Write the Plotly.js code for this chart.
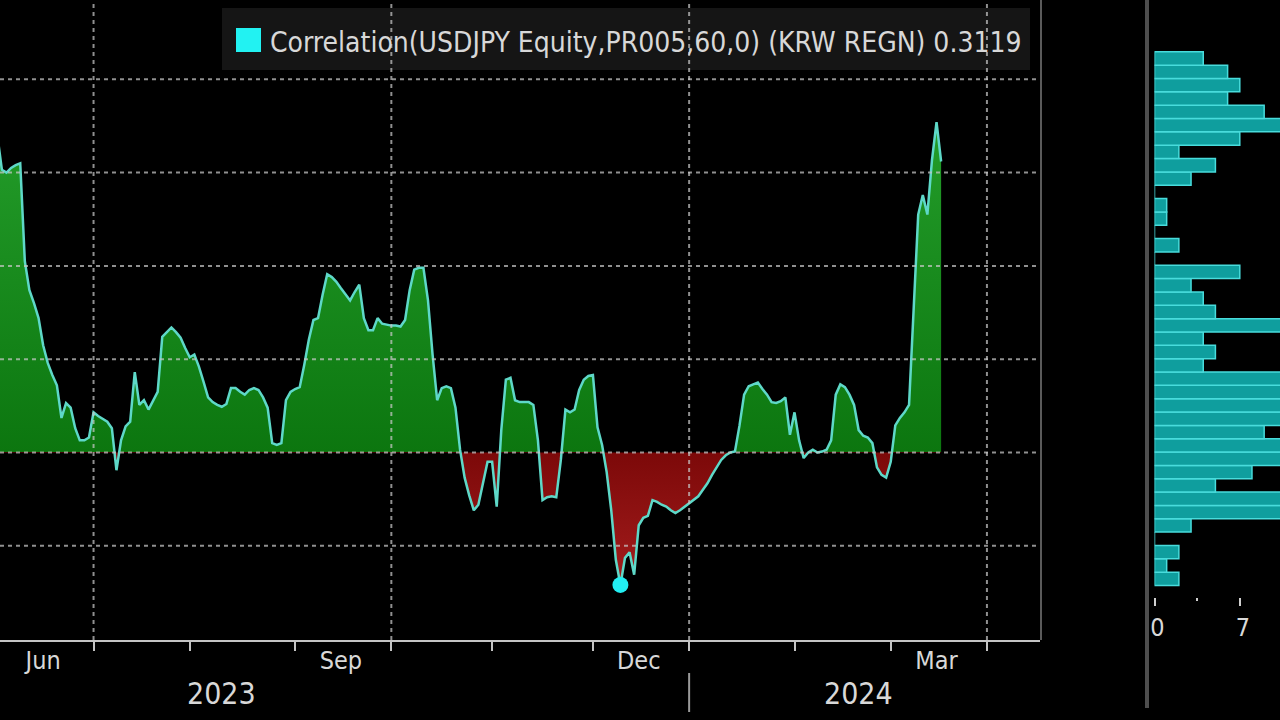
<!DOCTYPE html>
<html><head><meta charset="utf-8">
<script src="https://cdn.plot.ly/plotly-3.0.1.min.js"></script>
<style>html,body{margin:0;padding:0;background:#000;} #chart{width:1280px;height:720px;}</style>
</head><body><div id="chart"></div>
<script>
// ---- data ----
const dates = [
'2023-06-02','2023-06-05','2023-06-06','2023-06-07','2023-06-08','2023-06-09','2023-06-12','2023-06-13','2023-06-14','2023-06-15',
'2023-06-16','2023-06-19','2023-06-20','2023-06-21','2023-06-22','2023-06-23','2023-06-26','2023-06-27','2023-06-28','2023-06-29',
'2023-06-30','2023-07-03','2023-07-04','2023-07-05','2023-07-06','2023-07-07','2023-07-10','2023-07-11','2023-07-12','2023-07-13',
'2023-07-14','2023-07-17','2023-07-18','2023-07-19','2023-07-20','2023-07-21','2023-07-24','2023-07-25','2023-07-26','2023-07-27',
'2023-07-28','2023-07-31','2023-08-01','2023-08-02','2023-08-03','2023-08-04','2023-08-07','2023-08-08','2023-08-09','2023-08-10',
'2023-08-11','2023-08-14','2023-08-15','2023-08-16','2023-08-17','2023-08-18','2023-08-21','2023-08-22','2023-08-23','2023-08-24',
'2023-08-25','2023-08-28','2023-08-29','2023-08-30','2023-08-31','2023-09-01','2023-09-04','2023-09-05','2023-09-06','2023-09-07',
'2023-09-08','2023-09-11','2023-09-12','2023-09-13','2023-09-14','2023-09-15','2023-09-18','2023-09-19','2023-09-20','2023-09-21',
'2023-09-22','2023-09-25','2023-09-26','2023-09-27','2023-09-28','2023-09-29','2023-10-02','2023-10-03','2023-10-04','2023-10-05',
'2023-10-06','2023-10-09','2023-10-10','2023-10-11','2023-10-12','2023-10-13','2023-10-16','2023-10-17','2023-10-18','2023-10-19',
'2023-10-20','2023-10-23','2023-10-24','2023-10-25','2023-10-26','2023-10-27','2023-10-30','2023-10-31','2023-11-01','2023-11-02',
'2023-11-03','2023-11-06','2023-11-07','2023-11-08','2023-11-09','2023-11-10','2023-11-13','2023-11-14','2023-11-15','2023-11-16',
'2023-11-17','2023-11-20','2023-11-21','2023-11-22','2023-11-23','2023-11-24','2023-11-27','2023-11-28','2023-11-29','2023-11-30',
'2023-12-01','2023-12-04','2023-12-05','2023-12-06','2023-12-07','2023-12-08','2023-12-11','2023-12-12','2023-12-13','2023-12-14',
'2023-12-15','2023-12-18','2023-12-19','2023-12-20','2023-12-21','2023-12-22','2023-12-25','2023-12-26','2023-12-27','2023-12-28',
'2023-12-29','2024-01-01','2024-01-02','2024-01-03','2024-01-04','2024-01-05','2024-01-08','2024-01-09','2024-01-10','2024-01-11',
'2024-01-12','2024-01-15','2024-01-16','2024-01-17','2024-01-18','2024-01-19','2024-01-22','2024-01-23','2024-01-24','2024-01-25',
'2024-01-26','2024-01-29','2024-01-30','2024-01-31','2024-02-01','2024-02-02','2024-02-05','2024-02-06','2024-02-07','2024-02-08',
'2024-02-09','2024-02-12','2024-02-13','2024-02-14','2024-02-15','2024-02-16','2024-02-19','2024-02-20','2024-02-21','2024-02-22',
'2024-02-23','2024-02-26','2024-02-27','2024-02-28','2024-02-29','2024-03-01','2024-03-04','2024-03-05','2024-03-06','2024-03-07',
'2024-03-08','2024-03-11','2024-03-12','2024-03-13','2024-03-14','2024-03-15','2024-03-18'
];
const corr = [
0.340,0.303,0.300,0.305,0.308,0.310,0.205,0.174,0.160,0.144,
0.115,0.096,0.083,0.072,0.037,0.053,0.048,0.026,0.013,0.013,
0.016,0.043,0.039,0.036,0.033,0.026,-0.019,0.013,0.028,0.033,
0.086,0.051,0.056,0.046,0.056,0.065,0.124,0.129,0.134,0.129,
0.123,0.112,0.102,0.105,0.092,0.076,0.059,0.054,0.051,0.049,
0.052,0.069,0.069,0.065,0.062,0.067,0.069,0.067,0.059,0.048,
0.010,0.008,0.010,0.056,0.065,0.068,0.070,0.094,0.121,0.142,
0.144,0.169,0.191,0.188,0.183,0.176,0.170,0.163,0.172,0.180,
0.144,0.131,0.131,0.144,0.138,0.137,0.136,0.136,0.135,0.142,
0.174,0.196,0.198,0.198,0.163,0.105,0.056,0.069,0.071,0.069,
0.048,0.003,-0.027,-0.046,-0.062,-0.056,-0.033,-0.010,-0.010,-0.058,
0.024,0.078,0.080,0.056,0.054,0.054,0.054,0.051,0.013,-0.051,
-0.048,-0.047,-0.048,-0.008,0.046,0.043,0.046,0.067,0.078,0.082,
0.083,0.027,0.008,-0.021,-0.062,-0.115,-0.142,-0.113,-0.107,-0.131,
-0.078,-0.070,-0.068,-0.051,-0.053,-0.056,-0.058,-0.062,-0.065,-0.062,
-0.058,-0.054,-0.051,-0.047,-0.040,-0.033,-0.024,-0.016,-0.008,-0.003,
0.000,0.001,0.029,0.062,0.071,0.073,0.075,0.068,0.062,0.054,
0.053,0.055,0.059,0.019,0.043,0.013,-0.006,0.000,0.003,0.000,
0.001,0.003,0.013,0.062,0.073,0.070,0.062,0.051,0.024,0.018,
0.016,0.010,-0.016,-0.024,-0.027,-0.010,0.029,0.037,0.043,0.051,
0.153,0.255,0.276,0.255,0.313,0.354,0.3119
];
const monthStarts = ['2023-07-03','2023-08-01','2023-09-01','2023-10-02','2023-11-01','2023-12-01','2024-01-01','2024-02-01','2024-03-01','2024-04-01'];
const quarterStarts = ['2023-07-03','2023-10-02','2024-01-01','2024-04-01'];
const monthLabelDates = ['2023-06-16','2023-09-15','2023-12-15','2024-03-15'];
const monthLabels = ['Jun','Sep','Dec','Mar'];
const yearLabelDates = ['2023-08-10','2024-02-21'];
const yearLabels = ['2023','2024'];
const yearBoundary = '2024-01-01';
const gridValues = [-0.1, 0, 0.1, 0.2, 0.3, 0.4];
const histCenters = [
-0.1354,-0.1211,-0.1068,-0.0925,-0.0782,-0.0639,-0.0496,-0.0353,-0.0210,-0.0067,
0.0076,0.0219,0.0362,0.0505,0.0648,0.0791,0.0934,0.1077,0.1220,0.1363,
0.1506,0.1649,0.1792,0.1935,0.2078,0.2221,0.2364,0.2507,0.2650,0.2793,
0.2936,0.3079,0.3222,0.3365,0.3508,0.3651,0.3794,0.3937,0.4080,0.4223
];
const histCounts = [
2,1,2,0,3,11,12,5,8,13,
11,9,12,14,12,11,4,5,4,11,
5,4,3,7,0,2,0,1,1,0,
3,5,2,7,11,9,6,7,6,4
];
const histBinWidth = 0.0143;
const histTicks = [0, 7];
const histMinorTicks = [3.5];
const legendText = 'Correlation(USDJPY Equity,PR005,60,0) (KRW REGN) 0.3119';

// ---- layout constants ----
const FONT = '"DejaVu Sans Condensed", "Liberation Sans Narrow", sans-serif';
const Y0 = -0.201, Y1 = 0.485;
const MAIN_RIGHT = 0.8125;
const zf = (0 - Y0) / (Y1 - Y0);

let minIdx = 0;
corr.forEach((v, i) => { if (v < corr[minIdx]) minIdx = i; });

const traces = [
  {
    type: 'scatter', x: dates, y: corr, mode: 'lines',
    line: {color: '#5ed8c8', width: 2.5},
    fill: 'tozeroy', fillcolor: '#148a1a',
    fillgradient: {
      type: 'vertical', start: Y0, stop: Y1,
      colorscale: [[0, '#b42424'], [zf, '#7c0909'], [zf, '#0c760f'], [1, '#2cab34']]
    },
    hoverinfo: 'skip', showlegend: false
  },
  {
    type: 'scatter', x: [dates[minIdx]], y: [corr[minIdx]], mode: 'markers',
    marker: {color: '#22eef2', size: 16}, hoverinfo: 'skip', showlegend: false
  },
  {
    type: 'bar', orientation: 'h', y: histCenters, x: histCounts, width: histBinWidth,
    xaxis: 'x2', yaxis: 'y',
    marker: {color: '#0f9e9e', line: {color: '#48dcdc', width: 1.5}},
    hoverinfo: 'skip', showlegend: false
  }
];

const shapes = [];
// legend box
shapes.push({type: 'rect', xref: 'paper', yref: 'paper', x0: 222/1280, x1: 1030/1280, y0: (640-70)/640, y1: (640-8)/640,
  fillcolor: '#151515', line: {width: 0}, layer: 'above'});
gridValues.forEach(g => shapes.push({type: 'line', xref: 'paper', yref: 'y', x0: 0, x1: MAIN_RIGHT, y0: g, y1: g,
  line: {color: 'rgba(200,200,200,0.72)', width: 2, dash: '4px,4px'}, layer: 'above'}));
quarterStarts.forEach(d => shapes.push({type: 'line', xref: 'x', yref: 'paper', x0: d, x1: d, y0: 0, y1: 1,
  line: {color: 'rgba(200,200,200,0.72)', width: 2, dash: '4px,4px'}, layer: 'above'}));
// legend square
shapes.push({type: 'rect', xref: 'paper', yref: 'paper', x0: 236/1280, x1: 261/1280, y0: (640-52)/640, y1: (640-28)/640,
  fillcolor: '#22f2f2', line: {width: 0}, layer: 'above'});
// main panel right border
shapes.push({type: 'line', xref: 'paper', yref: 'paper', x0: 1041/1280, x1: 1041/1280, y0: 0, y1: 1,
  line: {color: '#5a5a5a', width: 2}, layer: 'above'});
// histogram panel separator
shapes.push({type: 'line', xref: 'paper', yref: 'paper', x0: 1147/1280, x1: 1147/1280, y0: -68/640, y1: 1,
  line: {color: '#4e4e4e', width: 4}, layer: 'above'});
// year boundary
shapes.push({type: 'line', xref: 'x', yref: 'paper', x0: yearBoundary, x1: yearBoundary, y0: -33/640, y1: -72/640,
  line: {color: '#9a9a9a', width: 2}, layer: 'above'});

const annotations = [
  {xref: 'paper', yref: 'paper', x: 268/1280, y: (640-42)/640, xanchor: 'left', yanchor: 'middle',
   text: legendText, showarrow: false, font: {family: FONT, size: 28, color: '#d8d8d8'}}
];
yearLabels.forEach((t, i) => annotations.push({xref: 'x', yref: 'paper', x: yearLabelDates[i], y: -53/640,
  xanchor: 'center', yanchor: 'middle', text: t, showarrow: false, font: {family: FONT, size: 30, color: '#d8d8d8'}}));

const layout = {
  width: 1280, height: 720,
  paper_bgcolor: '#000', plot_bgcolor: '#000',
  margin: {l: 0, r: 0, t: 0, b: 80},
  showlegend: false, bargap: 0,
  font: {family: FONT, color: '#d8d8d8'},
  xaxis: {
    type: 'date', domain: [0, MAIN_RIGHT], range: ['2023-06-02 14:00', '2024-04-16 14:00'],
    rangebreaks: [{bounds: ['sat', 'mon']}],
    showgrid: false, zeroline: false, showline: true, linecolor: '#c4c4c4', linewidth: 2,
    tickmode: 'array', tickvals: monthLabelDates, ticktext: monthLabels, ticks: '',
    tickfont: {family: FONT, size: 25, color: '#d8d8d8'}, ticklabelstandoff: -3,
    minor: {tickmode: 'array', tickvals: monthStarts, ticks: 'outside', ticklen: 9, tickwidth: 2, tickcolor: '#c4c4c4', showgrid: false},
    fixedrange: true
  },
  yaxis: {range: [Y0, Y1], showgrid: false, zeroline: false, showticklabels: false, showline: false, ticks: '', fixedrange: true},
  xaxis2: {
    domain: [1154.5/1280, 1], range: [0, 10.3], anchor: 'free', position: 43/640,
    showgrid: false, zeroline: false, showline: false,
    tickmode: 'array', tickvals: histTicks, ticks: 'outside', ticklen: 8, tickwidth: 2, tickcolor: '#cfcfcf',
    tickfont: {family: FONT, size: 25, color: '#d8d8d8'}, ticklabelshift: 3,
    minor: {tickmode: 'array', tickvals: histMinorTicks, ticks: 'outside', ticklen: 3, tickwidth: 2, tickcolor: '#cfcfcf'},
    fixedrange: true
  },
  shapes: shapes,
  annotations: annotations
};

Plotly.newPlot('chart', traces, layout, {staticPlot: true, displayModeBar: false});
</script>
</body></html>
